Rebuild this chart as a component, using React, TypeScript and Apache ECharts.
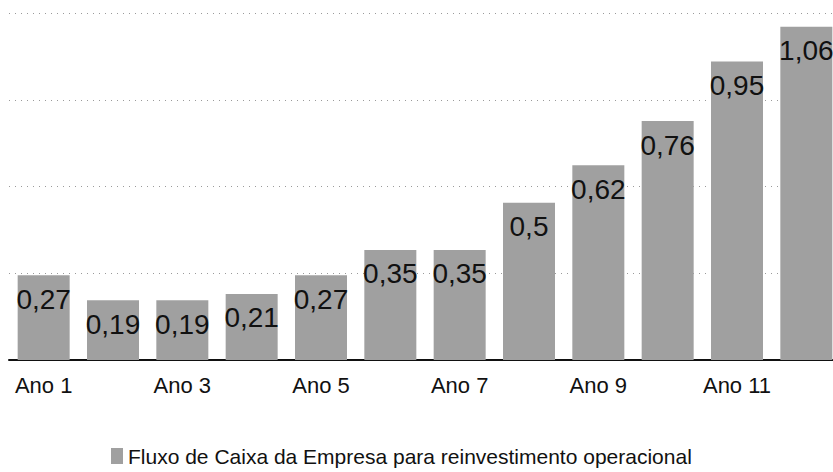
import React, { useEffect, useRef } from "react";
import * as echarts from "echarts";

const categories = ["Ano 1", "Ano 2", "Ano 3", "Ano 4", "Ano 5", "Ano 6", "Ano 7", "Ano 8", "Ano 9", "Ano 10", "Ano 11", "Ano 12"];
const values = [0.27, 0.19, 0.19, 0.21, 0.27, 0.35, 0.35, 0.5, 0.62, 0.76, 0.95, 1.06];
const seriesName = "Fluxo de Caixa da Empresa para reinvestimento operacional";
const yMax = 1.104;
const yStep = 0.276;

export default function App() {
  const ref = useRef<HTMLDivElement>(null);
  useEffect(() => {
    if (!ref.current) return;
    const chart = echarts.init(ref.current, null, { renderer: "svg" });
    const font = "'Liberation Sans', Arial, Helvetica, sans-serif";
    chart.setOption({
      animation: false,
      backgroundColor: "#ffffff",
      grid: { left: 9, right: 0, top: 13, bottom: 112, containLabel: false },
      xAxis: {
        type: "category",
        data: categories,
        axisLine: { show: true, lineStyle: { color: "#111", width: 2 } },
        axisTick: { show: false },
        axisLabel: { interval: 1, fontSize: 22, color: "#111", fontFamily: font, margin: 14 },
      },
      yAxis: {
        type: "value",
        min: 0,
        max: yMax,
        interval: yStep,
        axisLine: { show: false },
        axisTick: { show: false },
        axisLabel: { show: false },
        splitLine: { show: true, lineStyle: { color: "#9a9a9a", width: 1, type: [1, 5] } },
      },
      legend: {
        show: true,
        top: 443,
        left: 111,
        padding: 0,
        itemWidth: 12,
        itemHeight: 16,
        itemGap: 10,
        icon: "rect",
        textStyle: { fontSize: 21, color: "#111", fontFamily: font, lineHeight: 26 },
        data: [seriesName],
      },
      series: [
        {
          name: seriesName,
          type: "bar",
          data: values,
          barWidth: 52,
          itemStyle: { color: "#a0a0a0" },
          label: {
            show: true,
            position: "insideTop",
            distance: 10,
            fontSize: 28,
            color: "#111",
            fontFamily: font,
            formatter: (p: any) => String(p.value).replace(".", ","),
          },
        },
      ],
    });
    return () => chart.dispose();
  }, []);
  return <div ref={ref} style={{ position: "fixed", left: 0, top: 0, width: 841, height: 472 }} />;
}
